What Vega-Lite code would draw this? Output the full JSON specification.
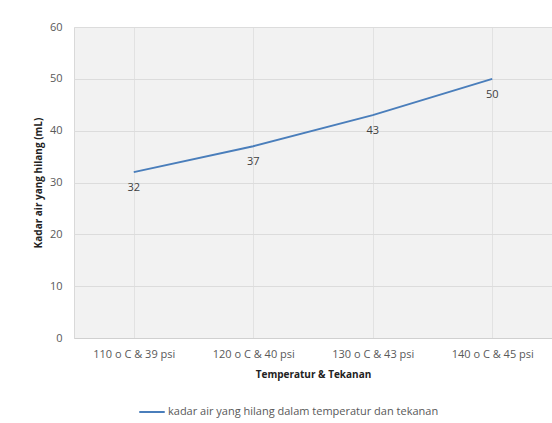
{
  "$schema": "https://vega.github.io/schema/vega-lite/v6.json",
  "width": 478,
  "height": 311,
  "autosize": {"type": "none"},
  "padding": {"left": 74, "top": 27, "right": 0, "bottom": 85},
  "background": "white",
  "config": {
    "font": "Open Sans",
    "view": {"fill": "#f2f2f2", "stroke": "#d9d9d9", "strokeWidth": 1}
  },
  "data": {
    "values": [
      {"kondisi": "110 o C & 39 psi", "kadar": 32, "seri": "kadar air yang hilang dalam temperatur dan tekanan"},
      {"kondisi": "120 o C & 40 psi", "kadar": 37, "seri": "kadar air yang hilang dalam temperatur dan tekanan"},
      {"kondisi": "130 o C & 43 psi", "kadar": 43, "seri": "kadar air yang hilang dalam temperatur dan tekanan"},
      {"kondisi": "140 o C & 45 psi", "kadar": 50, "seri": "kadar air yang hilang dalam temperatur dan tekanan"}
    ]
  },
  "encoding": {
    "x": {
      "field": "kondisi",
      "type": "ordinal",
      "scale": {"paddingInner": 0, "paddingOuter": 0},
      "axis": {
        "title": "Temperatur & Tekanan",
        "titleFont": "Open Sans",
        "titleFontSize": 10,
        "titleFontWeight": "bold",
        "titleColor": "#222222",
        "titlePadding": 10,
        "labelAngle": 0,
        "labelFont": "Open Sans",
        "labelFontSize": 11,
        "labelColor": "#595959",
        "labelPadding": 10,
        "ticks": false,
        "domainColor": "#d0d0d0",
        "grid": true,
        "bandPosition": 0,
        "gridColor": "#e2e2e2"
      }
    },
    "y": {
      "field": "kadar",
      "type": "quantitative",
      "scale": {"domain": [0, 60]},
      "axis": {
        "title": "Kadar air yang hilang (mL)",
        "titleFont": "Open Sans",
        "titleFontSize": 10,
        "titleFontWeight": "bold",
        "titleColor": "#222222",
        "titlePadding": 6,
        "values": [0, 10, 20, 30, 40, 50, 60],
        "labelFont": "Open Sans",
        "labelFontSize": 11,
        "labelColor": "#595959",
        "labelPadding": 12,
        "ticks": false,
        "domain": false,
        "gridColor": "#dcdcdc"
      }
    }
  },
  "layer": [
    {
      "mark": {"type": "line", "strokeWidth": 2},
      "encoding": {
        "color": {
          "field": "seri",
          "type": "nominal",
          "scale": {"range": ["#4a7ebb"]},
          "legend": {
            "title": null,
            "orient": "none",
            "legendX": 64,
            "legendY": 371,
            "symbolType": "stroke",
            "symbolSize": 650,
            "symbolStrokeWidth": 2,
            "labelFont": "Open Sans",
            "labelFontSize": 11,
            "labelColor": "#595959",
            "labelLimit": 400,
            "labelOffset": 2
          }
        }
      }
    },
    {
      "mark": {"type": "text", "dy": 16, "font": "Open Sans", "fontSize": 11, "color": "#404040"},
      "encoding": {"text": {"field": "kadar", "type": "quantitative"}}
    }
  ]
}
